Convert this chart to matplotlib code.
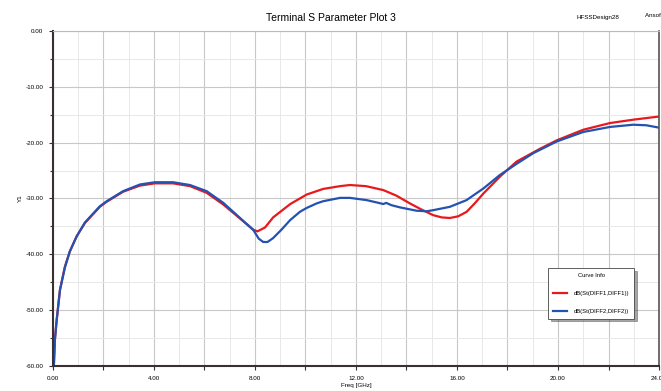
import matplotlib.pyplot as plt
from matplotlib.ticker import MultipleLocator, FuncFormatter

plt.rcParams['font.family'] = ['Liberation Sans', 'DejaVu Sans']

# Curve 1: dB(St(DIFF1,DIFF1))
freq_red = [0.04, 0.08, 0.15, 0.28, 0.475, 0.67, 0.94, 1.27, 1.86, 2.13,
            2.78, 3.45, 4.04, 4.76, 5.43, 6.09, 6.75, 7.41, 7.93, 8.1,
            8.4, 8.72, 9.4, 10.05, 10.7, 11.37, 11.76, 12.4, 13.08, 13.6,
            14.14, 14.6, 15.06, 15.4, 15.72, 16.05, 16.38, 16.7, 17.05, 17.7,
            18.36, 19.29, 19.95, 21.0, 22.06, 22.98, 23.97]
db_red = [-59.8, -55.3, -51.8, -46.4, -42.2, -39.5, -36.8, -34.4, -31.5, -30.6,
          -28.8, -27.7, -27.3, -27.3, -27.8, -29.0, -31.1, -33.6, -35.6, -35.9,
          -35.2, -33.4, -31.0, -29.3, -28.3, -27.8, -27.6, -27.8, -28.5, -29.5,
          -30.9, -32.0, -33.0, -33.4, -33.5, -33.2, -32.4, -30.9, -29.1, -26.1,
          -23.4, -21.1, -19.6, -17.7, -16.5, -15.9, -15.35]

# Curve 2: dB(St(DIFF2,DIFF2))
freq_blue = [0.04, 0.08, 0.15, 0.28, 0.475, 0.67, 0.94, 1.27, 1.86, 2.13,
             2.78, 3.45, 4.04, 4.76, 5.43, 6.09, 6.75, 7.41, 7.93, 8.15,
             8.33, 8.5, 8.72, 9.05, 9.39, 9.78, 10.05, 10.44, 10.7, 11.37,
             11.76, 12.42, 12.9, 13.08, 13.2, 13.4, 13.74, 14.4, 14.8, 15.06,
             15.72, 16.38, 17.05, 17.7, 18.1, 18.36, 19.02, 19.95, 21.0, 22.06,
             22.98, 23.5, 23.97]
db_blue = [-59.8, -55.3, -51.8, -46.4, -42.4, -39.5, -36.8, -34.3, -31.4, -30.5,
           -28.7, -27.5, -27.1, -27.1, -27.6, -28.7, -30.8, -33.5, -35.6, -37.2,
           -37.8, -37.8, -37.1, -35.6, -33.9, -32.4, -31.7, -30.9, -30.5, -29.9,
           -29.9, -30.3, -30.8, -31.0, -30.8, -31.2, -31.6, -32.2, -32.3, -32.1,
           -31.5, -30.3, -28.2, -25.8, -24.6, -23.8, -21.9, -19.8, -18.1, -17.2,
           -16.8, -16.9, -17.3]

labels = ['dB(St(DIFF1,DIFF1))', 'dB(St(DIFF2,DIFF2))']

fig = plt.figure(figsize=(6.61, 3.91), dpi=100)
ax = fig.add_axes([0.080, 0.064, 0.917, 0.857])

ax.plot(freq_red, db_red, color='#e8191c', lw=1.6, label=labels[0])
ax.plot(freq_blue, db_blue, color='#2352b0', lw=1.6, label=labels[1])

ax.set_xlim(0, 24)
ax.set_ylim(-60, 0)

# ticks and grid
ax.xaxis.set_major_locator(MultipleLocator(2))
ax.xaxis.set_minor_locator(MultipleLocator(1))
ax.xaxis.set_major_formatter(FuncFormatter(
    lambda v, p: f'{v:.2f}' if abs(v % 4) < 1e-6 else ''))
ax.yaxis.set_major_locator(MultipleLocator(10))
ax.yaxis.set_minor_locator(MultipleLocator(5))
ax.yaxis.set_major_formatter(FuncFormatter(lambda v, p: f'{v:.2f}'))

ax.tick_params(axis='both', which='major', labelsize=4.5, length=3,
               width=0.8, color='#333333', pad=4)
ax.tick_params(axis='x', which='minor', length=0)
ax.tick_params(axis='y', which='minor', length=2.5, width=0.8, color='#333333')

ax.grid(True, which='major', color='#c8c8c8', lw=0.8)
ax.grid(True, which='minor', color='#e8e8e8', lw=0.7)
ax.set_axisbelow(True)

for side in ['left', 'bottom']:
    ax.spines[side].set_color('#3a3030')
    ax.spines[side].set_linewidth(1.5)
ax.spines['right'].set_color('#555555')
ax.spines['right'].set_linewidth(1.2)
ax.spines['top'].set_color('#bbbbbb')
ax.spines['top'].set_linewidth(0.8)

ax.set_xlabel('Freq [GHz]', fontsize=4.5, labelpad=2)
ax.set_ylabel('Y1', fontsize=4.5, labelpad=2)

fig.text(0.50, 0.955, 'Terminal S Parameter Plot 3', fontsize=7.5,
         ha='center', va='center')
fig.text(0.905, 0.955, 'HFSSDesign28', fontsize=4.5, ha='center', va='center')
fig.text(0.976, 0.960, 'Ansoft LLC', fontsize=4.5, ha='left', va='center')

leg = ax.legend(title='Curve Info', loc='upper left',
                bbox_to_anchor=(0.812, 0.300), fontsize=4.2,
                title_fontsize=4.2, frameon=True, fancybox=False,
                shadow=True, edgecolor='#444444', handlelength=2.5,
                labelspacing=2.2, borderpad=0.8, handletextpad=1.2)
leg.get_frame().set_linewidth(0.6)

fig.savefig('out.png', dpi=100)
